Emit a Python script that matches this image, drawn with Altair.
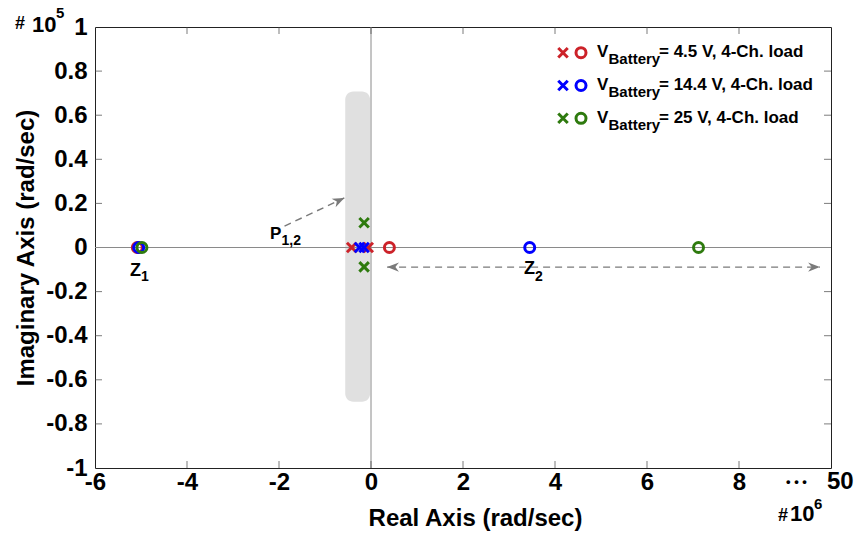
import math
import altair as alt
import pandas as pd

FONT = "Liberation Sans"

# ------------------------------------------------------------------ data
series = ["4.5 V", "14.4 V", "25 V"]
series_colors = ["#CC2229", "#0000FF", "#2E7A0E"]
legend_labels = ["= 4.5 V, 4-Ch. load", "= 14.4 V, 4-Ch. load", "= 25 V, 4-Ch. load"]

# zeros (o) : real part in 1e6 rad/s, imag part in 1e5 rad/s
zero_series = ["4.5 V", "14.4 V", "25 V", "4.5 V", "14.4 V", "25 V"]
zero_real = [-5.08, -5.05, -4.98, 0.40, 3.45, 7.12]
zero_imag = [0, 0, 0, 0, 0, 0]

# poles (x)
pole_series = ["4.5 V", "4.5 V", "14.4 V", "14.4 V", "25 V", "25 V"]
pole_real = [-0.42, -0.06, -0.25, -0.15, -0.15, -0.15]
pole_imag = [0, 0, 0, 0, 0.112, -0.088]

x_tick_values = [-6, -4, -2, 0, 2, 4, 6, 8]
y_tick_values = [-1, -0.8, -0.6, -0.4, -0.2, 0, 0.2, 0.4, 0.6, 0.8, 1]
x_minor = [-4, -2, 0, 2, 4, 6, 8]
y_minor = [-0.8, -0.6, -0.4, -0.2, 0.2, 0.4, 0.6, 0.8]

band_real = [-0.56, -0.02]
band_imag = [-0.70, 0.707]

# ------------------------------------------------------------------ layout
W, H = 736, 441
PAD_L, PAD_T = 95, 27
XMIN, XMAX, YMIN, YMAX = -6, 10, -1, 1


def dx(page_x):
    return XMIN + (page_x - PAD_L) / W * (XMAX - XMIN)


def dy(page_y):
    return YMAX - (page_y - PAD_T) / H * (YMAX - YMIN)


xs = alt.Scale(domain=[XMIN, XMAX], nice=False, zero=False)
ys = alt.Scale(domain=[YMIN, YMAX], nice=False, zero=False)
cs = alt.Scale(domain=series, range=series_colors)

minus_fix = "replace(datum.label, '\u2212', '-')"
AX_FS = 24

XAX = alt.Axis(
    values=x_tick_values, format="d", labelExpr=minus_fix,
    title="Real Axis (rad/sec)", tickSize=0, domain=False, grid=False,
    labelFlush=False, labelOverlap=False, labelPadding=2,
    labelFontSize=AX_FS, labelFont=FONT, labelFontWeight="bold", labelColor="black",
    titleFontSize=AX_FS, titleFont=FONT, titleFontWeight="bold", titleColor="black",
    titlePadding=12, titleX=W / 2 + 12)
YAX = alt.Axis(
    values=y_tick_values, format=".1~f", labelExpr=minus_fix,
    title="Imaginary Axis (rad/sec)", tickSize=0, domain=False, grid=False,
    labelFlush=False, labelOverlap=False, labelPadding=8,
    labelFontSize=AX_FS, labelFont=FONT, labelFontWeight="bold", labelColor="black",
    titleFontSize=AX_FS, titleFont=FONT, titleFontWeight="bold", titleColor="black",
    titlePadding=7)


def X(f):
    return alt.X(f, scale=xs, axis=XAX)


def Y(f):
    return alt.Y(f, scale=ys, axis=YAX)


# gray band
band_df = pd.DataFrame({"x": [band_real[0]], "x2": [band_real[1]],
                        "y": [band_imag[0]], "y2": [band_imag[1]]})
band = alt.Chart(band_df).mark_rect(color="#E0E0E0", cornerRadius=8).encode(
    x=X("x:Q"), x2="x2:Q", y=Y("y:Q"), y2="y2:Q")

zl_df = pd.DataFrame({"v": [0]})
vline = alt.Chart(zl_df).mark_rule(color="#8a8a8a", strokeWidth=1).encode(x=X("v:Q"))
hline = alt.Chart(zl_df).mark_rule(color="#8a8a8a", strokeWidth=1).encode(y=Y("v:Q"))

# ticks (inward, on all four sides)
xt_df = pd.DataFrame({"x": x_minor * 2, "y": [YMIN] * len(x_minor) + [YMAX] * len(x_minor)})
yt_df = pd.DataFrame({"y": y_minor * 2, "x": [XMIN] * len(y_minor) + [XMAX] * len(y_minor)})
xticks = alt.Chart(xt_df).mark_tick(orient="vertical", size=14, thickness=1,
                                    color="#444", clip=True).encode(x=X("x:Q"), y=Y("y:Q"))
yticks = alt.Chart(yt_df).mark_tick(orient="horizontal", size=14, thickness=1,
                                    color="#444", clip=True).encode(x=X("x:Q"), y=Y("y:Q"))

# arrows
arrow1 = [(-1.88, 0.097), (-0.58, 0.225)]
arrow2 = [(0.35, -0.089), (9.76, -0.089)]
arr_df = pd.DataFrame({
    "id": ["a", "a", "b", "b"],
    "x": [arrow1[0][0], arrow1[1][0], arrow2[0][0], arrow2[1][0]],
    "y": [arrow1[0][1], arrow1[1][1], arrow2[0][1], arrow2[1][1]],
    "o": [0, 1, 0, 1],
})
arr_lines = alt.Chart(arr_df).mark_line(color="#7a7a7a", strokeWidth=1.4,
                                         strokeDash=[7, 5]).encode(
    x=X("x:Q"), y=Y("y:Q"), detail="id:N", order="o:Q")

px_x = W / (XMAX - XMIN)
px_y = H / (YMAX - YMIN)
a1_ang = math.degrees(math.atan2(-(arrow1[1][1] - arrow1[0][1]) * px_y,
                                 (arrow1[1][0] - arrow1[0][0]) * px_x)) % 360
head_df = pd.DataFrame({
    "x": [arrow1[1][0], arrow2[0][0], arrow2[1][0]],
    "y": [arrow1[1][1], arrow2[0][1], arrow2[1][1]],
    "ang": [a1_ang, 180, 0],
})
head_path = "M0,0L-1,-0.4L-0.7,0L-1,0.4Z"
heads = alt.Chart(head_df).mark_point(shape=head_path, filled=True, size=560,
                                      color="#7a7a7a", opacity=1, strokeWidth=0).encode(
    x=X("x:Q"), y=Y("y:Q"), angle=alt.Angle("ang:Q", scale=None))

cross_path = "M-1,-1L1,1M-1,1L1,-1"
CROSS_SIZE, CROSS_SW = 90, 3
CIRC_SIZE, CIRC_SW = 100, 3

pole_df = pd.DataFrame({"re": pole_real, "im": pole_imag, "s": pole_series})
poles = alt.Chart(pole_df).mark_point(shape=cross_path, filled=False, size=CROSS_SIZE,
                                      strokeWidth=CROSS_SW, opacity=1).encode(
    x=X("re:Q"), y=Y("im:Q"), color=alt.Color("s:N", scale=cs, legend=None))

zero_df = pd.DataFrame({"re": zero_real, "im": zero_imag, "s": zero_series})
zeros = alt.Chart(zero_df).mark_point(shape="circle", filled=False, size=CIRC_SIZE,
                                      strokeWidth=CIRC_SW, opacity=1).encode(
    x=X("re:Q"), y=Y("im:Q"), color=alt.Color("s:N", scale=cs, legend=None))

# legend (drawn by hand: labels carry a subscript)
leg_rows = []
for i, s in enumerate(series):
    my = 52.7 + 32.8 * i
    leg_rows.append({"s": s, "cx": dx(563), "ox": dx(581), "y": dy(my)})
leg_df = pd.DataFrame(leg_rows)
leg_cross = alt.Chart(leg_df).mark_point(shape=cross_path, filled=False, size=CROSS_SIZE,
                                         strokeWidth=CROSS_SW, opacity=1).encode(
    x=X("cx:Q"), y=Y("y:Q"), color=alt.Color("s:N", scale=cs, legend=None))
leg_circ = alt.Chart(leg_df).mark_point(shape="circle", filled=False, size=CIRC_SIZE,
                                        strokeWidth=CIRC_SW, opacity=1).encode(
    x=X("ox:Q"), y=Y("y:Q"), color=alt.Color("s:N", scale=cs, legend=None))

# text items: (page x left, page baseline y, text, font size)
texts = []
for i, lab in enumerate(legend_labels):
    base = 57 + 32.8 * i
    texts += [(597, base, "V", 17), (608.5, base + 7, "Battery", 15), (659, base, lab, 17)]
texts += [
    (130, 275.5, "Z", 18), (141, 281, "1", 14),
    (524, 274, "Z", 18), (535, 281, "2", 14),
    (270, 238.5, "P", 17), (281.5, 244.5, "1,2", 14),
    (15, 29, "#", 18), (32, 32, "10", 22), (56, 18, "5", 15),
    (778, 521, "#", 18), (790, 521, "10", 22), (814, 509, "6", 15),
    (786, 486, "\u2022 \u2022 \u2022", 13),
    (827, 489, "50", AX_FS),
]
txt_df = pd.DataFrame({
    "x": [dx(t[0]) for t in texts],
    "y": [dy(t[1]) for t in texts],
    "t": [t[2] for t in texts],
    "fs": [t[3] for t in texts],
})
txt = alt.Chart(txt_df).mark_text(font=FONT, fontWeight="bold", align="left",
                                  baseline="alphabetic", color="black").encode(
    x=X("x:Q"), y=Y("y:Q"), text="t:N", size=alt.Size("fs:Q", scale=None, legend=None))

chart = alt.layer(
    band, vline, hline, arr_lines, heads, poles, zeros, xticks, yticks,
    leg_cross, leg_circ, txt,
).properties(
    width=W, height=H,
    autosize=alt.AutoSizeParams(type="none"),
    padding={"left": PAD_L, "top": PAD_T, "right": 857 - PAD_L - W, "bottom": 533 - PAD_T - H},
    background="white",
).configure_view(stroke="#222", strokeWidth=1)

chart.save("out.html", embed_options={"renderer": "svg", "actions": False})
